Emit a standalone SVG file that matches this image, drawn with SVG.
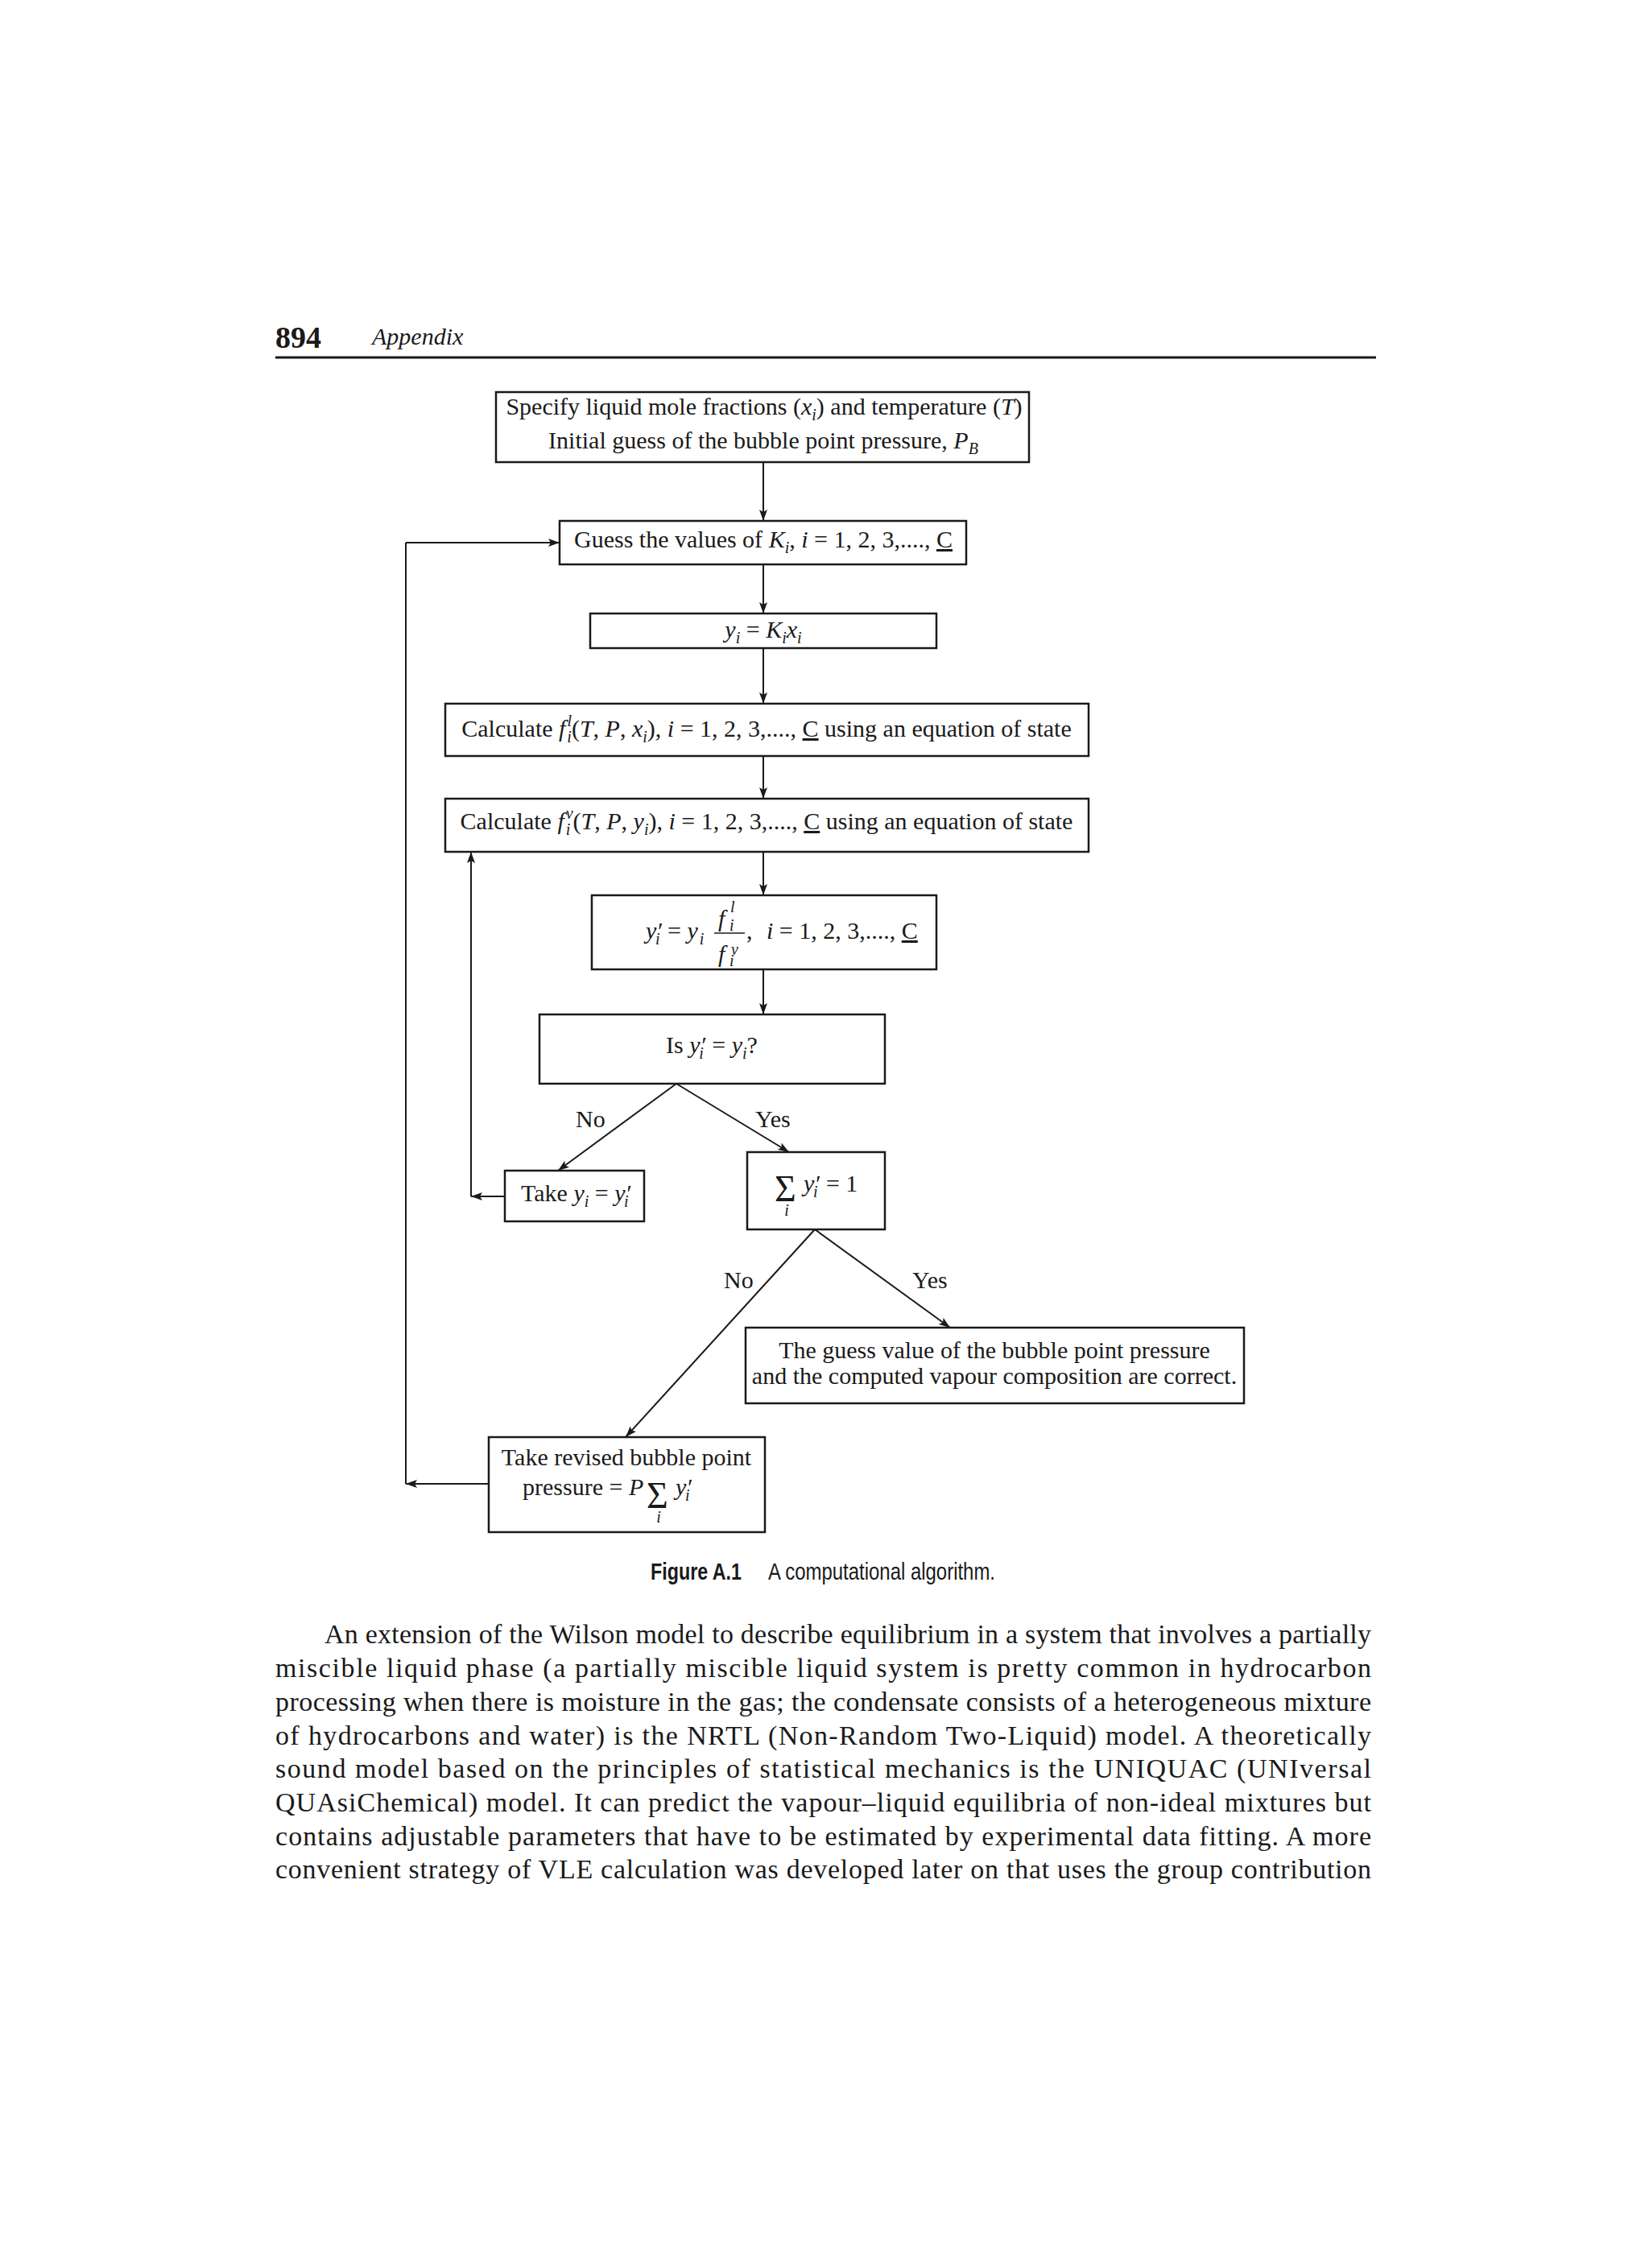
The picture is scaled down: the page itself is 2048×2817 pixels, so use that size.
<svg xmlns="http://www.w3.org/2000/svg" width="2048" height="2817" viewBox="0 0 2048 2817">
<style>
.box{fill:none;stroke:#1a1a1a;stroke-width:2.5}
.t{font-family:"Liberation Serif","Times New Roman",serif;font-size:30px;fill:#1a1a1a}
.it{font-style:italic}
.s{font-size:20px}
.u{text-decoration:underline}
.edge{stroke:#1a1a1a;stroke-width:2;fill:none;marker-end:url(#ah)}
.line{stroke:#1a1a1a;stroke-width:2;fill:none}
.sans{font-family:"Liberation Sans",Arial,sans-serif;font-size:30px;fill:#1a1a1a}
.p{font-family:"Liberation Serif","Times New Roman",serif;font-size:34px;fill:#1a1a1a}
.sig{font-family:"Liberation Serif","Times New Roman",serif;font-size:46px;fill:#1a1a1a}
</style>
<defs>
<marker id="ah" viewBox="0 0 14 10" refX="14" refY="5" markerWidth="14" markerHeight="10" markerUnits="userSpaceOnUse" orient="auto">
<path d="M0,0 L14,5 L0,10 L3,5 z" fill="#1a1a1a"/>
</marker>
</defs>
<rect width="2048" height="2817" fill="#ffffff"/>

<g id="header">
<text x="342" y="432" style="font-family:'Liberation Serif',serif;font-size:38px;font-weight:bold;fill:#1a1a1a">894</text>
<text x="462" y="428" class="t it">Appendix</text>
<line x1="342" y1="444" x2="1709" y2="444" stroke="#1a1a1a" stroke-width="3"/>
</g>

<g id="connectors">
<line class="edge" x1="948" y1="574" x2="948" y2="647"/>
<line class="edge" x1="948" y1="701" x2="948" y2="762"/>
<line class="edge" x1="948" y1="805" x2="948" y2="874"/>
<line class="edge" x1="948" y1="939" x2="948" y2="992"/>
<line class="edge" x1="948" y1="1058" x2="948" y2="1112"/>
<line class="edge" x1="948" y1="1204" x2="948" y2="1260"/>
<line class="edge" x1="840" y1="1346" x2="693" y2="1454"/>
<line class="edge" x1="840" y1="1346" x2="980" y2="1431"/>
<line class="edge" x1="627" y1="1486" x2="585" y2="1486"/>
<line class="edge" x1="585" y1="1486" x2="585" y2="1058"/>
<line class="edge" x1="1012" y1="1527" x2="1180" y2="1649"/>
<line class="edge" x1="1012" y1="1527" x2="777" y2="1785"/>
<line class="edge" x1="607" y1="1843" x2="504" y2="1843"/>
<line class="line" x1="504" y1="1843" x2="504" y2="674"/>
<line class="edge" x1="504" y1="674" x2="695" y2="674"/>
<text class="t" x="715" y="1400">No</text>
<text class="t" x="938" y="1400">Yes</text>
<text class="t" x="899" y="1600">No</text>
<text class="t" x="1133" y="1600">Yes</text>
</g>

<g id="start">
<rect class="box" x="616" y="487" width="662" height="87"/>
<text class="t" x="949" y="515" text-anchor="middle">Specify liquid mole fractions (<tspan class="it">x</tspan><tspan class="it s" dy="7">i</tspan><tspan dy="-7">) and temperature (</tspan><tspan class="it">T</tspan>)</text>
<text class="t" x="948" y="557" text-anchor="middle">Initial guess of the bubble point pressure, <tspan class="it">P</tspan><tspan class="it s" dy="7">B</tspan></text>
</g>

<g id="guessK">
<rect class="box" x="695" y="647" width="505" height="54"/>
<text class="t" x="948" y="680" text-anchor="middle">Guess the values of <tspan class="it">K</tspan><tspan class="it s" dy="7">i</tspan><tspan dy="-7">, </tspan><tspan class="it">i</tspan> = 1, 2, 3,...., <tspan class="u">C</tspan></text>
</g>

<g id="yKx">
<rect class="box" x="733" y="762" width="430" height="43"/>
<text class="t" x="948" y="792" text-anchor="middle"><tspan class="it">y</tspan><tspan class="it s" dy="7">i</tspan><tspan dy="-7"> = </tspan><tspan class="it">K</tspan><tspan class="it s" dy="7">i</tspan><tspan class="it" dy="-7">x</tspan><tspan class="it s" dy="7">i</tspan></text>
</g>

<g id="calcFl">
<rect class="box" x="553" y="874" width="799" height="65"/>
<text class="t" x="952" y="915" text-anchor="middle">Calculate <tspan class="it">f</tspan><tspan class="it s" dx="2" dy="-13">l</tspan><tspan class="it s" dx="-5.6" dy="20">i</tspan><tspan dy="-7">(</tspan><tspan class="it">T</tspan>, <tspan class="it">P</tspan>, <tspan class="it">x</tspan><tspan class="it s" dy="7">i</tspan><tspan dy="-7">), </tspan><tspan class="it">i</tspan> = 1, 2, 3,...., <tspan class="u">C</tspan> using an equation of state</text>
</g>

<g id="calcFv">
<rect class="box" x="553" y="992" width="799" height="66"/>
<text class="t" x="952" y="1030" text-anchor="middle">Calculate <tspan class="it">f</tspan><tspan class="it s" dx="2" dy="-13">v</tspan><tspan class="it s" dx="-8.9" dy="20">i</tspan><tspan dx="3.3" dy="-7">(</tspan><tspan class="it">T</tspan>, <tspan class="it">P</tspan>, <tspan class="it">y</tspan><tspan class="it s" dy="7">i</tspan><tspan dy="-7">), </tspan><tspan class="it">i</tspan> = 1, 2, 3,...., <tspan class="u">C</tspan> using an equation of state</text>
</g>

<g id="yprime">
<rect class="box" x="735" y="1112" width="428" height="92"/>
<text class="t" x="802" y="1166"><tspan class="it">y′</tspan><tspan class="it s" dx="-8" dy="7">i</tspan><tspan dx="2" dy="-7"> = </tspan><tspan class="it">y</tspan><tspan class="it s" dx="2" dy="7">i</tspan></text>
<text class="t it" x="892" y="1151">f</text>
<text class="t it s" x="907" y="1133">l</text>
<text class="t it s" x="906" y="1156">i</text>
<line x1="887" y1="1159" x2="925" y2="1159" stroke="#1a1a1a" stroke-width="1.5"/>
<text class="t it" x="892" y="1195">f</text>
<text class="t it s" x="908" y="1186">v</text>
<text class="t it s" x="906" y="1200">i</text>
<text class="t" x="927" y="1166">,</text>
<text class="t" x="952" y="1166"><tspan class="it">i</tspan> = 1, 2, 3,...., <tspan class="u">C</tspan></text>
</g>

<g id="isEqual">
<rect class="box" x="670" y="1260" width="429" height="86"/>
<text class="t" x="884" y="1308" text-anchor="middle">Is <tspan class="it">y′</tspan><tspan class="it s" dx="-8" dy="7">i</tspan><tspan dx="3" dy="-7"> = </tspan><tspan class="it">y</tspan><tspan class="it s" dy="7">i</tspan><tspan dy="-7">?</tspan></text>
</g>

<g id="takeY">
<rect class="box" x="627" y="1454" width="173" height="63"/>
<text class="t" x="647" y="1492">Take <tspan class="it">y</tspan><tspan class="it s" dy="7">i</tspan><tspan dy="-7"> = </tspan><tspan class="it">y′</tspan><tspan class="it s" dx="-8" dy="7">i</tspan></text>
</g>

<g id="sumCheck">
<rect class="box" x="928" y="1431" width="171" height="96"/>
<text class="sig" x="962" y="1492">Σ</text>
<text class="t it s" x="977" y="1510" text-anchor="middle">i</text>
<text class="t" x="998" y="1480"><tspan class="it">y′</tspan><tspan class="it s" dx="-8" dy="7">i</tspan><tspan dx="3" dy="-7"> = 1</tspan></text>
</g>

<g id="result">
<rect class="box" x="926" y="1649" width="619" height="94"/>
<text class="t" x="1235" y="1687" text-anchor="middle">The guess value of the bubble point pressure</text>
<text class="t" x="1235" y="1719" text-anchor="middle">and the computed vapour composition are correct.</text>
</g>

<g id="revise">
<rect class="box" x="607" y="1785" width="343" height="118"/>
<text class="t" x="778" y="1820" text-anchor="middle">Take revised bubble point</text>
<text class="t" x="649" y="1857">pressure = <tspan class="it">P</tspan></text>
<text class="sig" x="803" y="1873">Σ</text>
<text class="t it s" x="818" y="1891" text-anchor="middle">i</text>
<text class="t" x="839" y="1857"><tspan class="it">y′</tspan><tspan class="it s" dx="-8" dy="7">i</tspan></text>
</g>

<g id="caption">
<text class="sans" x="808" y="1962" font-weight="bold" textLength="113" lengthAdjust="spacingAndGlyphs">Figure A.1</text>
<text class="sans" x="954" y="1962" textLength="282" lengthAdjust="spacingAndGlyphs">A computational algorithm.</text>
</g>

<g id="paragraph">
<text class="p" x="403" y="2041" textLength="1300" lengthAdjust="spacing">An extension of the Wilson model to describe equilibrium in a system that involves a partially</text>
<text class="p" x="342" y="2083" textLength="1361" lengthAdjust="spacing">miscible liquid phase (a partially miscible liquid system is pretty common in hydrocarbon</text>
<text class="p" x="342" y="2125" textLength="1361" lengthAdjust="spacing">processing when there is moisture in the gas; the condensate consists of a heterogeneous mixture</text>
<text class="p" x="342" y="2167" textLength="1361" lengthAdjust="spacing">of hydrocarbons and water) is the NRTL (Non-Random Two-Liquid) model. A theoretically</text>
<text class="p" x="342" y="2208" textLength="1361" lengthAdjust="spacing">sound model based on the principles of statistical mechanics is the UNIQUAC (UNIversal</text>
<text class="p" x="342" y="2250" textLength="1361" lengthAdjust="spacing">QUAsiChemical) model. It can predict the vapour–liquid equilibria of non-ideal mixtures but</text>
<text class="p" x="342" y="2292" textLength="1361" lengthAdjust="spacing">contains adjustable parameters that have to be estimated by experimental data fitting. A more</text>
<text class="p" x="342" y="2333" textLength="1361" lengthAdjust="spacing">convenient strategy of VLE calculation was developed later on that uses the group contribution</text>
</g>
</svg>
